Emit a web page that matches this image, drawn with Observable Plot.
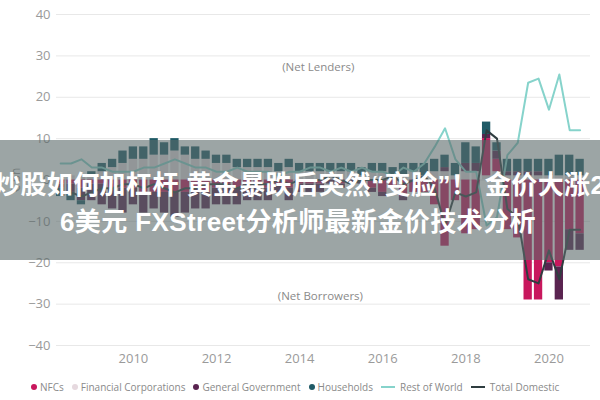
<!DOCTYPE html>
<html><head><meta charset="utf-8">
<script src="https://cdn.jsdelivr.net/npm/d3@7"></script>
<script src="https://cdn.jsdelivr.net/npm/@observablehq/plot@0.6"></script>
<style>
body{margin:0;background:#fff;font-family:"Open Sans",sans-serif}
#wrap{position:relative;width:600px;height:400px;overflow:hidden}
#wrap svg{display:block}
.banner{position:absolute;left:0;top:140px;width:600px;height:120px;background:rgba(90,105,105,0.6)}
.bline{position:absolute;white-space:nowrap;color:#fff;font-family:"Liberation Sans","Noto Sans CJK SC",sans-serif;font-weight:bold;font-size:26px;line-height:30px;letter-spacing:0.4px}
.legend{position:absolute;left:31px;top:380px;display:flex;align-items:center;font-size:10px;color:#8a8a8a;white-space:nowrap;line-height:14px}
.legend .it{display:flex;align-items:center;margin-right:8px}
.legend .dot{width:6px;height:6px;border-radius:50%;margin-right:3px}
.legend .ln{width:14px;height:2px;margin-right:5px}
.ylab{position:absolute;left:15px;top:180px;transform:translate(-50%,-50%) rotate(-90deg);transform-origin:center;font-size:12px;color:#9a9a9a;white-space:nowrap}
</style></head><body><div id="wrap"></div>
<script>
const quarters = [
"2008Q2","2008Q3","2008Q4",
"2009Q1","2009Q2","2009Q3","2009Q4",
"2010Q1","2010Q2","2010Q3","2010Q4",
"2011Q1","2011Q2","2011Q3","2011Q4",
"2012Q1","2012Q2","2012Q3","2012Q4",
"2013Q1","2013Q2","2013Q3","2013Q4",
"2014Q1","2014Q2","2014Q3","2014Q4",
"2015Q1","2015Q2","2015Q3","2015Q4",
"2016Q1","2016Q2","2016Q3","2016Q4",
"2017Q1","2017Q2","2017Q3","2017Q4",
"2018Q1","2018Q2","2018Q3","2018Q4",
"2019Q1","2019Q2","2019Q3","2019Q4",
"2020Q1","2020Q2","2020Q3","2020Q4"];

const nfcs = [
-1,-1,-2,
-1,-1,-2,-2,
-2,-3,-3,-3,
-3,-3,-2,-3,
-2,-2,-2,-2,
-2,-2,-1,-2,
-1,-1,-1,0,
-1,0,0,-2,
-3,-2,-4,-3,
-3,-6,-16,-5,
-13,-12,9,3,
-12,-14,-29,-29,
-20,-21,-12,-13];

const financialCorporations = [
0,1,1,
1,2,3,4,
5,5,6,6,
7,6,5,5,
4,4,3,3,
3,3,2,3,
2,2,2,2,
2,2,1,2,
2,1,1,2,
1,2,2,1,
2,2,1,2,
1,1,1,1,
1,1,1,1];

const generalGovernment = [
-1,-2,-3,
-4,-5,-5,-6,
-4,-5,-4,-5,
-6,-5,-5,-4,
-4,-4,-4,-3,
-3,-3,-2,-3,
-2,-2,-2,-1,
-1,-1,-1,-1,
-1,0,-1,0,
0,0,1,0,
2,2,1,2,
1,1,1,1,
-2,-8,-5,-4];

const households = [
-2,-2,-1,
1,2,2,3,
3,3,4,3,
3,2,3,2,
2,2,2,2,
2,2,2,2,
2,2,2,2,
2,2,2,2,
2,2,3,2,
3,3,3,3,
5,4,3,2,
3,3,3,3,
4,5,5,4];

const restOfWorld = [
4,4,5,
3,3,2,2,
2,3,3,4,
5,4,3,3,
2,2,3,2,
2,2,1,2,
2,3,3,2,
3,2,3,2,
2,1,3,2,
4,8,12.5,5,
2,2,-11,-9,
6,9,23.5,24.5,
17,25.5,12,12];

const totalDomestic = [
-3,-3,-4,
-3,-2,-2,-1,
-1,-2,-1,-2,
-3,-2,-2,-1,
-1,-1,-2,-1,
-1,-1,0,-1,
0,0,0,1,
0,-1,0,0,
0,1,-1,0,
1,-2,-11,-3,
-4,-3,12,10,
-7,-9,-24,-25,
-17,-24,-12,-12];

const yTicks = [-40,-30,-20,-10,0,10,20,30,40];
const xTicks = [2010,2012,2014,2016,2018,2020];
const legendNames = ["NFCs","Financial Corporations","General Government","Households","Rest of World","Total Domestic"];
const legendColors = ["#c8175d","#e6d9df","#5a2450","#1f5a66","#86d3cb","#2f3d40"];
const bannerLine1 = "炒股如何加杠杆 黄金暴跌后突然“变脸”！ 金价大涨2";
const bannerLine2 = "6美元 FXStreet分析师最新金价技术分析";

const toT = q => +q.slice(0,4) + (+q.slice(5) - 1) / 4;

const barSeries = [
  ["Financial Corporations", financialCorporations],
  ["NFCs", nfcs],
  ["General Government", generalGovernment],
  ["Households", households]
];
const bars = [];
for (const [name, vals] of barSeries)
  quarters.forEach((q, i) => bars.push({t: toT(q), sector: name, value: vals[i]}));

const lines = [];
for (const [name, vals] of [["Rest of World", restOfWorld], ["Total Domestic", totalDomestic]])
  quarters.forEach((q, i) => lines.push({t: toT(q), series: name, value: vals[i]}));

const chart = Plot.plot({
  width: 600,
  height: 372,
  marginTop: 14,
  marginBottom: 27,
  marginLeft: 56,
  marginRight: 10,
  style: {fontFamily: "'Open Sans', sans-serif", color: "#9a9a9a", background: "transparent"},
  x: {domain: [2008.15, 2021.0]},
  y: {domain: [-40, 40]},
  color: {domain: legendNames, range: legendColors},
  marks: [
    Plot.gridY(yTicks, {stroke: "#e8e8e8", strokeOpacity: 1}),
    Plot.axisY(yTicks, {tickSize: 0, tickPadding: 6, fontSize: 13, label: null}),
    Plot.axisX(xTicks, {tickSize: 0, tickPadding: 8, fontSize: 13, label: null, tickFormat: d => String(d)}),
    Plot.rectY(bars, Plot.stackY({x1: d => d.t - 0.1, x2: d => d.t + 0.1, y: "value", fill: "sector"})),
    Plot.line(lines, {x: "t", y: "value", stroke: "series", strokeWidth: 2}),
    Plot.text(["(Net Lenders)"], {x: 2014.45, y: 27.2, text: d => d, fontSize: 11.5, fill: "#8a8a8a"}),
    Plot.text(["(Net Borrowers)"], {x: 2014.5, y: -28, text: d => d, fontSize: 11.5, fill: "#8a8a8a"})
  ]
});

const wrap = document.getElementById("wrap");
wrap.appendChild(chart);

const ylab = document.createElement("div");
ylab.className = "ylab";
ylab.textContent = "€ bn";
wrap.appendChild(ylab);

const legend = document.createElement("div");
legend.className = "legend";
legendNames.forEach((n, i) => {
  const it = document.createElement("span");
  it.className = "it";
  const sw = document.createElement("span");
  sw.className = i < 4 ? "dot" : "ln";
  sw.style.background = legendColors[i];
  it.appendChild(sw);
  const tx = document.createElement("span");
  tx.textContent = n;
  it.appendChild(tx);
  legend.appendChild(it);
});
wrap.appendChild(legend);

const banner = document.createElement("div");
banner.className = "banner";
const l1 = document.createElement("div");
l1.className = "bline";
l1.style.left = "-6px"; l1.style.top = "30px";
l1.textContent = bannerLine1;
const l2 = document.createElement("div");
l2.className = "bline";
l2.style.left = "60px"; l2.style.top = "67px";
l2.textContent = bannerLine2;
banner.appendChild(l1);
banner.appendChild(l2);
wrap.appendChild(banner);
</script>
</body></html>
